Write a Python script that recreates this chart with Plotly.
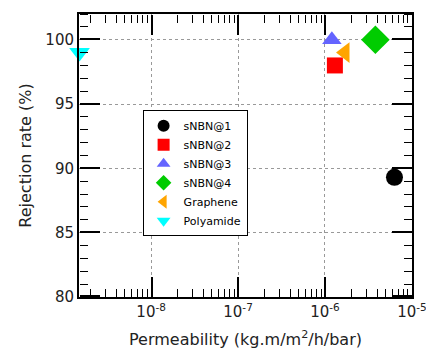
import plotly.graph_objects as go

names = ["sNBN@1", "sNBN@2", "sNBN@3", "sNBN@4", "Graphene", "Polyamide"]
perm = [6.3e-6, 1.3e-6, 1.2e-6, 3.8e-6, 1.7e-6, 1.5e-9]
rejection = [89.3, 98.0, 100.0, 100.0, 99.0, 99.0]
colors = ["black", "red", "#6464ff", "#00cc00", "orange", "cyan"]
symbols = ["circle", "square", "triangle-up", "diamond", "triangle-left", "triangle-down"]
sizes = [17, 16, 17, 22, 18, 18]

xtickvals = [1e-8, 1e-7, 1e-6, 1e-5]
xticktext = ["10<sup>-8</sup>", "10<sup>-7</sup>", "10<sup>-6</sup>", "10<sup>-5</sup>"]
xminor = [m * 10.0 ** e for e in range(-9, -5) for m in range(2, 10)]
ytickvals = [80, 85, 90, 95, 100]
yminor = [v for v in range(80, 103) if v % 5 != 0]

XRANGE = [-8.83, -4.999]
YRANGE = [80, 102]
W, H = 426, 364
ML, MR, MT, MB = 79, 14, 14, 67
PW, PH = W - ML - MR, H - MT - MB

fig = go.Figure()
for n, x, y, c, s, z in zip(names, perm, rejection, colors, symbols, sizes):
    fig.add_trace(go.Scatter(x=[x], y=[y], mode="markers", name=n,
                             marker=dict(color=c, symbol=s, size=z, line=dict(width=0)),
                             cliponaxis=False))

font = "DejaVu Sans, sans-serif"

# long tick marks, nudged by a fraction of a pixel from the label positions
xmajor_marks = [v * 1.01 for v in xtickvals]
ymajor_marks = [v + 0.04 for v in ytickvals]

SEG = 8
specs = [("minor", 8, 1, 0)] + [("major", SEG, 2, off) for off in (0, 6, 12)]

def xaxis_ticks(side, pos, vals, ln, wd):
    return dict(type="log", range=XRANGE, overlaying="x", anchor="free", position=pos, side=side,
                tickvals=[1e-30], ticks="", showticklabels=False, showgrid=False,
                showline=False, zeroline=False,
                minor=dict(ticks="outside", ticklen=ln, tickwidth=wd, tickcolor="black",
                           tickvals=vals, showgrid=False))

def yaxis_ticks(side, pos, vals, ln, wd):
    return dict(range=YRANGE, overlaying="y", anchor="free", position=pos, side=side,
                tickvals=[-1000], ticks="", showticklabels=False, showgrid=False,
                showline=False, zeroline=False,
                minor=dict(ticks="outside", ticklen=ln, tickwidth=wd, tickcolor="black",
                           tickvals=vals, showgrid=False))

axes = {}
idx = 2
for kind, ln, wd, off in specs:
    xv = xminor if kind == "minor" else xmajor_marks
    yv = yminor if kind == "minor" else ymajor_marks
    for side_x, pos_x, side_y, pos_y in [("top", off / PH, "right", off / PW),
                                         ("bottom", 1 - off / PH, "left", 1 - off / PW)]:
        axes["xaxis%d" % idx] = xaxis_ticks(side_x, pos_x, xv, ln, wd)
        axes["yaxis%d" % idx] = yaxis_ticks(side_y, pos_y, yv, ln, wd)
        fig.add_trace(go.Scatter(x=[None], y=[None], xaxis="x%d" % idx, yaxis="y%d" % idx,
                                 showlegend=False, hoverinfo="skip"))
        idx += 1

fig.update_layout(
    width=W, height=H,
    margin=dict(l=ML, r=MR, t=MT, b=MB),
    paper_bgcolor="white", plot_bgcolor="white",
    font=dict(family=font, size=14, color="#222"),
    legend=dict(x=0.191, y=0.66, xanchor="left", yanchor="top",
                bordercolor="black", borderwidth=1, bgcolor="white",
                font=dict(size=11, color="black"), itemsizing="constant",
                tracegroupgap=0),
    showlegend=True,
    xaxis=dict(
        type="log", range=XRANGE, tickvals=xtickvals, ticktext=xticktext,
        ticklabeloverflow="allow", automargin=False,
        ticks="", showline=True, linewidth=2, linecolor="black", mirror=True,
        showgrid=True, gridcolor="#999", griddash="dot", gridwidth=1,
        title=dict(text="Permeability (kg.m/m<sup>2</sup>/h/bar)", font=dict(size=16), standoff=14),
        tickfont=dict(size=15), zeroline=False,
    ),
    yaxis=dict(
        range=YRANGE, tickvals=ytickvals, automargin=False,
        ticks="", showline=True, linewidth=2, linecolor="black", mirror=True,
        showgrid=True, gridcolor="#999", griddash="dot", gridwidth=1,
        title=dict(text="Rejection rate (%)", font=dict(size=16), standoff=10),
        tickfont=dict(size=15), zeroline=False,
    ),
    **axes,
)
fig.write_html("out.html")
